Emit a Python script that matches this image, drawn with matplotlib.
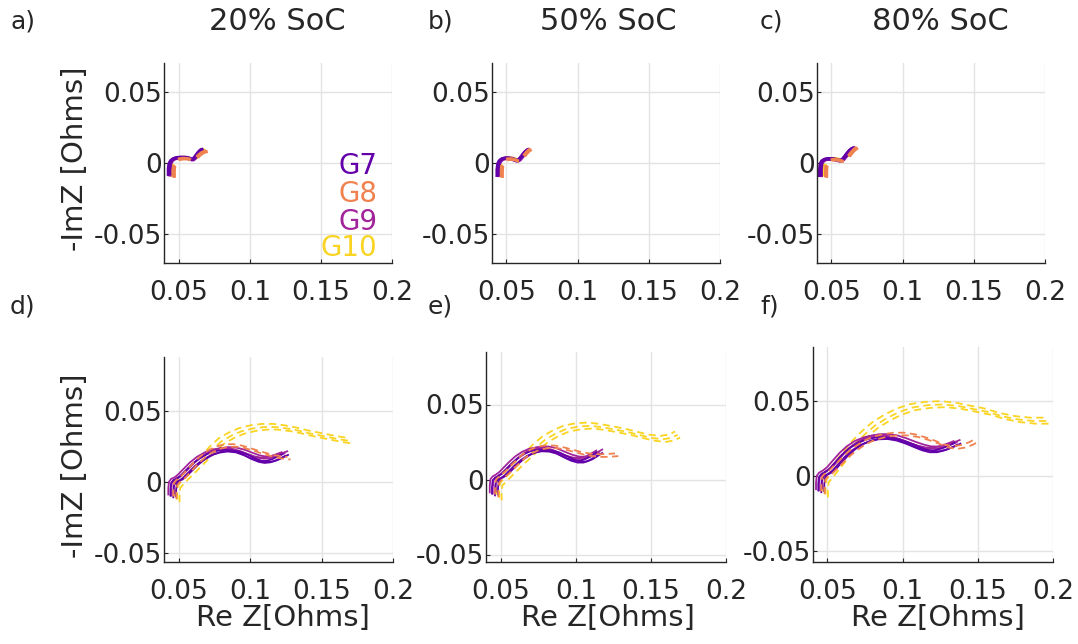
import matplotlib
matplotlib.use("Agg")
import matplotlib.pyplot as plt

W, H = 1078, 644

GROUPS = ["G7", "G8", "G9", "G10"]
COLORS = {"G7": "#6400aa", "G8": "#f08250", "G9": "#a2249b", "G10": "#f9d423"}
STYLES = {"G7": "-", "G8": (0, (4, 2.5)), "G9": "-", "G10": (0, (4, 2.5))}
SOC_TITLES = ["20% SoC", "50% SoC", "80% SoC"]
PANEL_LABELS = ["a)", "b)", "c)", "d)", "e)", "f)"]

# ---------------- top row (a, b, c) ----------------
A_G7_X = [0.0425, 0.0425, 0.0430, 0.0440, 0.0455, 0.0475, 0.0500, 0.0530, 0.0555, 0.0575, 0.0590, 0.0605, 0.0620, 0.0635, 0.0650, 0.0662]
A_G7_Y = [-0.0090, -0.0040, -0.0005, 0.0015, 0.0027, 0.0034, 0.0037, 0.0037, 0.0034, 0.0026, 0.0022, 0.0035, 0.0055, 0.0075, 0.0090, 0.0095]
A_G9_X = [0.0428, 0.0428, 0.0433, 0.0443, 0.0458, 0.0478, 0.0503, 0.0533, 0.0558, 0.0578, 0.0593, 0.0608, 0.0623, 0.0638, 0.0653, 0.0665]
A_G9_Y = [-0.0092, -0.0042, -0.0004, 0.0016, 0.0029, 0.0036, 0.0039, 0.0038, 0.0035, 0.0028, 0.0024, 0.0037, 0.0057, 0.0077, 0.0092, 0.0097]
A_G8_X = [0.0460, 0.0460, 0.0463, 0.0470, 0.0485, 0.0505, 0.0530, 0.0555, 0.0575, 0.0592, 0.0607, 0.0622, 0.0640, 0.0658, 0.0675, 0.0695]
A_G8_Y = [-0.0100, -0.0050, -0.0010, 0.0010, 0.0022, 0.0030, 0.0033, 0.0032, 0.0028, 0.0022, 0.0026, 0.0040, 0.0058, 0.0072, 0.0080, 0.0085]
A_G10_X = [0.0445, 0.0445, 0.0448, 0.0458, 0.0472, 0.0492, 0.0515, 0.0540, 0.0565, 0.0585, 0.0600, 0.0615, 0.0630, 0.0645, 0.0660, 0.0675]
A_G10_Y = [-0.0095, -0.0045, -0.0005, 0.0015, 0.0027, 0.0034, 0.0036, 0.0035, 0.0031, 0.0024, 0.0022, 0.0034, 0.0052, 0.0070, 0.0083, 0.0090]

B_G7_X = [0.0435, 0.0435, 0.0440, 0.0450, 0.0465, 0.0485, 0.0510, 0.0535, 0.0555, 0.0570, 0.0585, 0.0600, 0.0615, 0.0630, 0.0645, 0.0655]
B_G7_Y = [-0.0098, -0.0045, -0.0005, 0.0015, 0.0027, 0.0032, 0.0032, 0.0028, 0.0020, 0.0014, 0.0022, 0.0040, 0.0060, 0.0078, 0.0090, 0.0095]
B_G9_X = [0.0438, 0.0438, 0.0443, 0.0453, 0.0468, 0.0488, 0.0513, 0.0538, 0.0558, 0.0573, 0.0588, 0.0603, 0.0618, 0.0633, 0.0648, 0.0658]
B_G9_Y = [-0.0096, -0.0044, -0.0004, 0.0016, 0.0028, 0.0034, 0.0034, 0.0030, 0.0022, 0.0016, 0.0024, 0.0042, 0.0062, 0.0080, 0.0092, 0.0097]
B_G8_X = [0.0465, 0.0465, 0.0468, 0.0476, 0.0490, 0.0510, 0.0532, 0.0552, 0.0570, 0.0585, 0.0600, 0.0615, 0.0630, 0.0645, 0.0658, 0.0670]
B_G8_Y = [-0.0100, -0.0050, -0.0010, 0.0010, 0.0022, 0.0029, 0.0030, 0.0026, 0.0020, 0.0017, 0.0026, 0.0043, 0.0062, 0.0080, 0.0092, 0.0098]
B_G10_X = [0.0450, 0.0450, 0.0453, 0.0462, 0.0476, 0.0496, 0.0520, 0.0543, 0.0562, 0.0577, 0.0592, 0.0607, 0.0622, 0.0637, 0.0650, 0.0660]
B_G10_Y = [-0.0095, -0.0045, -0.0005, 0.0015, 0.0026, 0.0032, 0.0032, 0.0028, 0.0021, 0.0016, 0.0024, 0.0040, 0.0058, 0.0075, 0.0087, 0.0093]

C_G7_X = [0.0418, 0.0418, 0.0422, 0.0432, 0.0447, 0.0467, 0.0492, 0.0518, 0.0540, 0.0558, 0.0575, 0.0592, 0.0608, 0.0625, 0.0642, 0.0658]
C_G7_Y = [-0.0098, -0.0045, -0.0005, 0.0013, 0.0023, 0.0027, 0.0027, 0.0024, 0.0018, 0.0014, 0.0024, 0.0044, 0.0066, 0.0086, 0.0100, 0.0105]
C_G9_X = [0.0421, 0.0421, 0.0425, 0.0435, 0.0450, 0.0470, 0.0495, 0.0521, 0.0543, 0.0561, 0.0578, 0.0595, 0.0611, 0.0628, 0.0645, 0.0660]
C_G9_Y = [-0.0096, -0.0044, -0.0004, 0.0014, 0.0025, 0.0029, 0.0029, 0.0026, 0.0020, 0.0016, 0.0026, 0.0046, 0.0068, 0.0088, 0.0102, 0.0107]
C_G8_X = [0.0460, 0.0460, 0.0463, 0.0472, 0.0487, 0.0507, 0.0530, 0.0550, 0.0568, 0.0584, 0.0600, 0.0616, 0.0632, 0.0648, 0.0664, 0.0680]
C_G8_Y = [-0.0100, -0.0050, -0.0010, 0.0009, 0.0020, 0.0025, 0.0025, 0.0021, 0.0016, 0.0015, 0.0026, 0.0045, 0.0066, 0.0085, 0.0100, 0.0110]
C_G10_X = [0.0445, 0.0445, 0.0448, 0.0457, 0.0471, 0.0491, 0.0515, 0.0538, 0.0557, 0.0573, 0.0590, 0.0606, 0.0622, 0.0638, 0.0652, 0.0665]
C_G10_Y = [-0.0095, -0.0045, -0.0005, 0.0013, 0.0023, 0.0028, 0.0028, 0.0024, 0.0018, 0.0015, 0.0024, 0.0042, 0.0062, 0.0080, 0.0094, 0.0100]

# ---------------- bottom row (d, e, f) ----------------
D_G7_X = [0.0440, 0.0440, 0.0445, 0.0460, 0.0485, 0.0510, 0.0545, 0.0590, 0.0640, 0.0700, 0.0760, 0.0820, 0.0880, 0.0940, 0.0990, 0.1040, 0.1080, 0.1120, 0.1160, 0.1200, 0.1230]
D_G7_Y = [-0.0100, -0.0050, -0.0005, 0.0015, 0.0025, 0.0045, 0.0080, 0.0125, 0.0165, 0.0200, 0.0220, 0.0228, 0.0222, 0.0200, 0.0175, 0.0155, 0.0148, 0.0152, 0.0165, 0.0185, 0.0200]
D_G9_X = [0.0435, 0.0435, 0.0440, 0.0455, 0.0480, 0.0505, 0.0540, 0.0585, 0.0635, 0.0695, 0.0755, 0.0815, 0.0875, 0.0935, 0.0985, 0.1035, 0.1080, 0.1120, 0.1160, 0.1200, 0.1235]
D_G9_Y = [-0.0100, -0.0050, -0.0005, 0.0016, 0.0027, 0.0048, 0.0084, 0.0130, 0.0170, 0.0204, 0.0224, 0.0232, 0.0228, 0.0212, 0.0192, 0.0174, 0.0166, 0.0168, 0.0178, 0.0192, 0.0205]
D_G8_X = [0.0460, 0.0460, 0.0465, 0.0480, 0.0500, 0.0530, 0.0560, 0.0600, 0.0645, 0.0700, 0.0760, 0.0820, 0.0880, 0.0940, 0.1000, 0.1060, 0.1120, 0.1170, 0.1220, 0.1260]
D_G8_Y = [-0.0100, -0.0050, -0.0005, 0.0015, 0.0030, 0.0058, 0.0092, 0.0135, 0.0178, 0.0222, 0.0252, 0.0266, 0.0268, 0.0258, 0.0240, 0.0220, 0.0203, 0.0190, 0.0182, 0.0178]
D_G10_X = [0.0470, 0.0470, 0.0475, 0.0500, 0.0540, 0.0580, 0.0620, 0.0670, 0.0720, 0.0780, 0.0850, 0.0920, 0.1000, 0.1080, 0.1160, 0.1240, 0.1320, 0.1400, 0.1500, 0.1600, 0.1680]
D_G10_Y = [-0.0100, -0.0050, 0.0000, 0.0030, 0.0070, 0.0110, 0.0150, 0.0200, 0.0255, 0.0310, 0.0350, 0.0380, 0.0400, 0.0410, 0.0410, 0.0400, 0.0385, 0.0365, 0.0345, 0.0325, 0.0312]

E_G7_X = [0.0440, 0.0440, 0.0445, 0.0460, 0.0480, 0.0505, 0.0535, 0.0570, 0.0610, 0.0655, 0.0700, 0.0750, 0.0800, 0.0850, 0.0900, 0.0945, 0.0990, 0.1030, 0.1070, 0.1110, 0.1140]
E_G7_Y = [-0.0100, -0.0050, -0.0005, 0.0012, 0.0022, 0.0040, 0.0070, 0.0105, 0.0140, 0.0170, 0.0190, 0.0200, 0.0198, 0.0185, 0.0160, 0.0138, 0.0125, 0.0125, 0.0140, 0.0165, 0.0185]
E_G9_X = [0.0435, 0.0435, 0.0440, 0.0455, 0.0475, 0.0500, 0.0530, 0.0565, 0.0605, 0.0650, 0.0695, 0.0745, 0.0795, 0.0845, 0.0895, 0.0945, 0.0990, 0.1035, 0.1080, 0.1120, 0.1150]
E_G9_Y = [-0.0100, -0.0050, -0.0005, 0.0013, 0.0024, 0.0043, 0.0074, 0.0110, 0.0146, 0.0176, 0.0196, 0.0206, 0.0204, 0.0192, 0.0170, 0.0150, 0.0138, 0.0136, 0.0148, 0.0170, 0.0188]
E_G8_X = [0.0460, 0.0460, 0.0465, 0.0480, 0.0500, 0.0530, 0.0560, 0.0600, 0.0640, 0.0690, 0.0740, 0.0800, 0.0860, 0.0920, 0.0980, 0.1040, 0.1100, 0.1160, 0.1210, 0.1260]
E_G8_Y = [-0.0100, -0.0050, -0.0005, 0.0015, 0.0030, 0.0056, 0.0088, 0.0126, 0.0164, 0.0196, 0.0218, 0.0228, 0.0226, 0.0214, 0.0198, 0.0182, 0.0172, 0.0168, 0.0170, 0.0174]
E_G10_X = [0.0470, 0.0470, 0.0475, 0.0500, 0.0540, 0.0580, 0.0620, 0.0670, 0.0720, 0.0780, 0.0850, 0.0920, 0.1000, 0.1080, 0.1160, 0.1240, 0.1320, 0.1400, 0.1480, 0.1560, 0.1620, 0.1660]
E_G10_Y = [-0.0100, -0.0050, 0.0000, 0.0025, 0.0065, 0.0105, 0.0145, 0.0190, 0.0240, 0.0290, 0.0330, 0.0360, 0.0375, 0.0380, 0.0370, 0.0355, 0.0340, 0.0320, 0.0300, 0.0290, 0.0300, 0.0320]

F_G7_X = [0.0440, 0.0440, 0.0445, 0.0460, 0.0485, 0.0515, 0.0550, 0.0595, 0.0645, 0.0700, 0.0760, 0.0820, 0.0880, 0.0940, 0.1000, 0.1060, 0.1110, 0.1160, 0.1210, 0.1260, 0.1310, 0.1350]
F_G7_Y = [-0.0100, -0.0050, -0.0005, 0.0015, 0.0028, 0.0050, 0.0090, 0.0140, 0.0185, 0.0220, 0.0245, 0.0258, 0.0260, 0.0250, 0.0230, 0.0205, 0.0185, 0.0172, 0.0172, 0.0185, 0.0205, 0.0225]
F_G9_X = [0.0435, 0.0435, 0.0440, 0.0455, 0.0480, 0.0510, 0.0545, 0.0590, 0.0640, 0.0695, 0.0755, 0.0815, 0.0875, 0.0935, 0.0995, 0.1055, 0.1110, 0.1160, 0.1210, 0.1260, 0.1310, 0.1355]
F_G9_Y = [-0.0100, -0.0050, -0.0005, 0.0016, 0.0030, 0.0054, 0.0095, 0.0146, 0.0192, 0.0228, 0.0252, 0.0265, 0.0266, 0.0257, 0.0238, 0.0215, 0.0196, 0.0184, 0.0183, 0.0192, 0.0210, 0.0228]
F_G8_X = [0.0460, 0.0460, 0.0465, 0.0480, 0.0510, 0.0540, 0.0580, 0.0630, 0.0680, 0.0740, 0.0800, 0.0870, 0.0940, 0.1010, 0.1080, 0.1150, 0.1220, 0.1280, 0.1340, 0.1400, 0.1450, 0.1490]
F_G8_Y = [-0.0100, -0.0050, -0.0005, 0.0015, 0.0035, 0.0065, 0.0105, 0.0155, 0.0195, 0.0235, 0.0262, 0.0280, 0.0290, 0.0290, 0.0280, 0.0260, 0.0235, 0.0210, 0.0200, 0.0210, 0.0230, 0.0255]
F_G10_X = [0.0470, 0.0470, 0.0475, 0.0500, 0.0540, 0.0580, 0.0620, 0.0670, 0.0730, 0.0800, 0.0880, 0.0960, 0.1050, 0.1150, 0.1250, 0.1350, 0.1450, 0.1550, 0.1650, 0.1750, 0.1850, 0.1950]
F_G10_Y = [-0.0100, -0.0050, 0.0000, 0.0030, 0.0080, 0.0130, 0.0180, 0.0240, 0.0300, 0.0360, 0.0410, 0.0450, 0.0480, 0.0495, 0.0500, 0.0490, 0.0470, 0.0450, 0.0420, 0.0400, 0.0390, 0.0390]

TOP_DX = {"G7": [0.0, 0.0010], "G8": [0.0, 0.0008], "G9": [0.0, 0.0010], "G10": [0.0, 0.0010]}
TOP_DY = {"G7": [0.0, 0.0004], "G8": [0.0, -0.0004], "G9": [0.0, -0.0003], "G10": [0.0, 0.0004]}
BOT_DX = {"G7": [0.0, 0.0020, 0.0040], "G8": [0.0, 0.0022], "G9": [-0.0010, 0.0010, 0.0030], "G10": [0.0, 0.0018, 0.0034]}
BOT_DY = {"G7": [0.0, -0.0012, -0.0005], "G8": [0.0, -0.0018], "G9": [0.0008, 0.0000, 0.0015], "G10": [0.0, -0.0022, -0.0040]}

PANEL_DATA = {
    "a": {"G7": (A_G7_X, A_G7_Y), "G8": (A_G8_X, A_G8_Y), "G9": (A_G9_X, A_G9_Y), "G10": (A_G10_X, A_G10_Y)},
    "b": {"G7": (B_G7_X, B_G7_Y), "G8": (B_G8_X, B_G8_Y), "G9": (B_G9_X, B_G9_Y), "G10": (B_G10_X, B_G10_Y)},
    "c": {"G7": (C_G7_X, C_G7_Y), "G8": (C_G8_X, C_G8_Y), "G9": (C_G9_X, C_G9_Y), "G10": (C_G10_X, C_G10_Y)},
    "d": {"G7": (D_G7_X, D_G7_Y), "G8": (D_G8_X, D_G8_Y), "G9": (D_G9_X, D_G9_Y), "G10": (D_G10_X, D_G10_Y)},
    "e": {"G7": (E_G7_X, E_G7_Y), "G8": (E_G8_X, E_G8_Y), "G9": (E_G9_X, E_G9_Y), "G10": (E_G10_X, E_G10_Y)},
    "f": {"G7": (F_G7_X, F_G7_Y), "G8": (F_G8_X, F_G8_Y), "G9": (F_G9_X, F_G9_Y), "G10": (F_G10_X, F_G10_Y)},
}

X_TICKS = [0.05, 0.1, 0.15, 0.2]
X_TICKLABELS = ["0.05", "0.1", "0.15", "0.2"]
Y_TICKS = [-0.05, 0, 0.05]
Y_TICKLABELS = ["-0.05", "0", "0.05"]

# layout in pixels: (left, top, right, bottom), xlim, ylim
LAYOUT = {
    "a": ((164, 63, 392, 263), (0.0395, 0.2), (-0.07, 0.07)),
    "b": ((492, 63, 720, 263), (0.0400, 0.2), (-0.07, 0.07)),
    "c": ((817, 63, 1045, 263), (0.0400, 0.2), (-0.07, 0.07)),
    "d": ((164, 357, 393, 562), (0.0395, 0.2), (-0.056, 0.088)),
    "e": ((486, 352, 726, 562), (0.0400, 0.2), (-0.055, 0.085)),
    "f": ((813, 347, 1053, 562), (0.0405, 0.2), (-0.057, 0.086)),
}
TITLE_X = [277, 608, 940]
XLABEL_X = [283, 608, 938]
DRAW_ORDER = ["G10", "G9", "G7", "G8"]
TXT = "#262626"
plt.rcParams["font.family"] = ["DejaVu Sans"]

fig = plt.figure(figsize=(W / 100, H / 100), dpi=100)
fig.patch.set_facecolor("white")

axes = {}
for i, key in enumerate(["a", "b", "c", "d", "e", "f"]):
    (l, t, r, b), xl, yl = LAYOUT[key]
    ax = fig.add_axes([l / W, 1 - b / H, (r - l) / W, (b - t) / H])
    axes[key] = ax
    top = key in "abc"
    dxs = TOP_DX if top else BOT_DX
    dys = TOP_DY if top else BOT_DY
    lw = 2.2 if top else 1.3
    for g in DRAW_ORDER:
        xs, ys = PANEL_DATA[key][g]
        for dx, dy in zip(dxs[g], dys[g]):
            ax.plot([x + dx for x in xs], [y + dy for y in ys], color=COLORS[g],
                    linestyle=STYLES[g], lw=lw, solid_capstyle="butt", dash_capstyle="butt")
    ax.set_xlim(*xl)
    ax.set_ylim(*yl)
    ax.set_xticks(X_TICKS)
    ax.set_xticklabels(X_TICKLABELS)
    ax.set_yticks(Y_TICKS)
    ax.set_yticklabels(Y_TICKLABELS)
    ax.grid(True, color="#e3e3e3", lw=1.0)
    ax.set_axisbelow(True)
    for s in ["top", "right"]:
        ax.spines[s].set_visible(False)
    for s in ["left", "bottom"]:
        ax.spines[s].set_color(TXT)
        ax.spines[s].set_linewidth(1.0)
    ax.tick_params(direction="in", length=3, width=0.8, colors=TXT, labelsize=19)
    ax.tick_params(axis="x", pad=12)
    ax.tick_params(axis="y", pad=1.5)
    if not top:
        fig.text(XLABEL_X[i - 3] / W, 1 - 618 / H, "Re Z[Ohms]", fontsize=21, color=TXT,
                 ha="center", va="center")
    if top:
        fig.text(TITLE_X[i] / W, 1 - 21 / H, SOC_TITLES[i], fontsize=22, color=TXT,
                 ha="center", va="center")

# y labels
for cy in [159, 466]:
    fig.text(75 / W, 1 - cy / H, "-ImZ [Ohms]", fontsize=21, color=TXT, rotation=90,
             ha="center", va="center")

# panel letters
for lab, px, py in [("a)", 10, 22), ("b)", 428, 22), ("c)", 760, 22),
                    ("d)", 10, 307), ("e)", 428, 307), ("f)", 760, 307)]:
    fig.text(px / W, 1 - py / H, lab, fontsize=18, color=TXT, ha="left", va="center")

# legend (coloured text, right-aligned in panel a)
for g, yf in zip(GROUPS, [0.485, 0.345, 0.205, 0.075]):
    axes["a"].text(0.935, yf, g, transform=axes["a"].transAxes, color=COLORS[g],
                   fontsize=20, ha="right", va="center")

fig.savefig("out.png", dpi=100)
